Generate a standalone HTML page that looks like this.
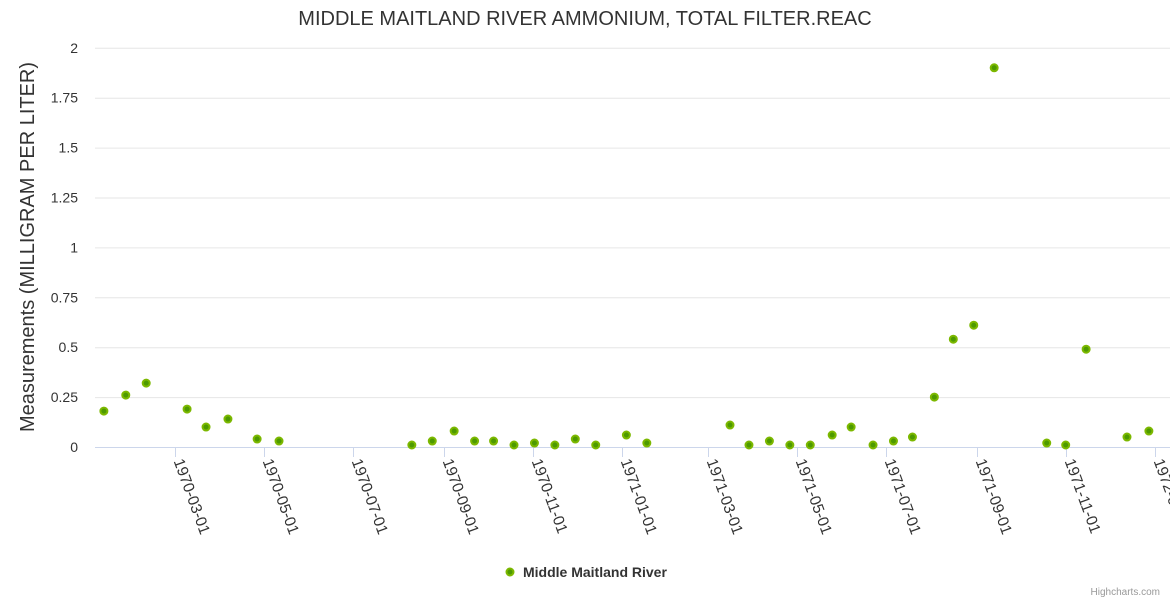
<!DOCTYPE html>
<html><head><meta charset="utf-8"><style>
body{margin:0;background:#fff;font-family:"Liberation Sans",sans-serif;}
</style></head><body>
<svg id="chart" width="1170" height="600" xmlns="http://www.w3.org/2000/svg" font-family="Liberation Sans, sans-serif">
<rect width="1170" height="600" fill="#fff"/>
<text x="585" y="25" text-anchor="middle" font-size="20" fill="#333">MIDDLE MAITLAND RIVER AMMONIUM, TOTAL FILTER.REAC</text>
<text transform="translate(34,247) rotate(-90)" text-anchor="middle" font-size="20" fill="#333">Measurements (MILLIGRAM PER LITER)</text>
<g id="grid"></g><g id="xaxis"></g><g id="points"></g>
<g>
<circle cx="510" cy="572" r="3.5" fill="#4d9a00" stroke="#7cb800" stroke-width="2"/>
<text x="523" y="577" font-size="14" font-weight="bold" fill="#333">Middle Maitland River</text>
</g>
<text x="1160" y="595" text-anchor="end" font-size="10" fill="#999">Highcharts.com</text>
</svg>
<script>
const dates=["1970-01-11","1970-01-26","1970-02-09","1970-03-09","1970-03-22","1970-04-06","1970-04-26","1970-05-11","1970-08-10","1970-08-24","1970-09-08","1970-09-22","1970-10-05","1970-10-19","1970-11-02","1970-11-16","1970-11-30","1970-12-14","1971-01-04","1971-01-18","1971-03-16","1971-03-29","1971-04-12","1971-04-26","1971-05-10","1971-05-25","1971-06-07","1971-06-22","1971-07-06","1971-07-19","1971-08-03","1971-08-16","1971-08-30","1971-09-13","1971-10-19","1971-11-01","1971-11-15","1971-12-13","1971-12-28"];
const values=[0.18,0.26,0.32,0.19,0.10,0.14,0.04,0.03,0.01,0.03,0.08,0.03,0.03,0.01,0.02,0.01,0.04,0.01,0.06,0.02,0.11,0.01,0.03,0.01,0.01,0.06,0.10,0.01,0.03,0.05,0.25,0.54,0.61,1.90,0.02,0.01,0.49,0.05,0.08];
const yTicks=[0,0.25,0.5,0.75,1,1.25,1.5,1.75,2];
const yTickLabels=["0","0.25","0.5","0.75","1","1.25","1.5","1.75","2"];
const xTicks=["1970-03-01","1970-05-01","1970-07-01","1970-09-01","1970-11-01","1971-01-01","1971-03-01","1971-05-01","1971-07-01","1971-09-01","1971-11-01","1972-01-01"];
const NS="http://www.w3.org/2000/svg";
const t0=Date.UTC(1970,2,1);
function xs(d){const p=d.split("-");return 175.4+((Date.UTC(+p[0],p[1]-1,+p[2])-t0)/864e5)*1.4595;}
function ys(v){return 447-v*199.6;}
function mk(tag,attrs,parent){const e=document.createElementNS(NS,tag);for(const k in attrs)e.setAttribute(k,attrs[k]);parent.appendChild(e);return e;}
const grid=document.getElementById("grid"),xa=document.getElementById("xaxis"),pts=document.getElementById("points");
yTicks.forEach((v,i)=>{
 const l=mk("line",{x1:95,x2:1170,y1:ys(v)+0.5,y2:ys(v)+0.5,stroke:v===0?"#ccd6eb":"#e6e6e6","stroke-width":1},grid);
 
 
 const t=mk("text",{x:78,y:ys(v)+5,"text-anchor":"end","font-size":14,fill:"#333"},grid);
 t.textContent=yTickLabels[i];
 
 
});
xTicks.forEach(d=>{
 const x=Math.round(xs(d))+0.5;
 const l=mk("line",{x1:x,x2:x,y1:447,y2:457,stroke:"#ccd6eb"},xa);
 
 
 const t=mk("text",{transform:`translate(${x-2},461) rotate(70)`,"font-size":15.5,fill:"#333"},xa);
 t.textContent=d;
 
 
});
dates.forEach((d,i)=>{
 const c=mk("circle",{cx:xs(d),cy:ys(values[i]),r:3.5,fill:"#4d9a00",stroke:"#7cb800","stroke-width":2},pts);
 
 
});
</script>
</body></html>
